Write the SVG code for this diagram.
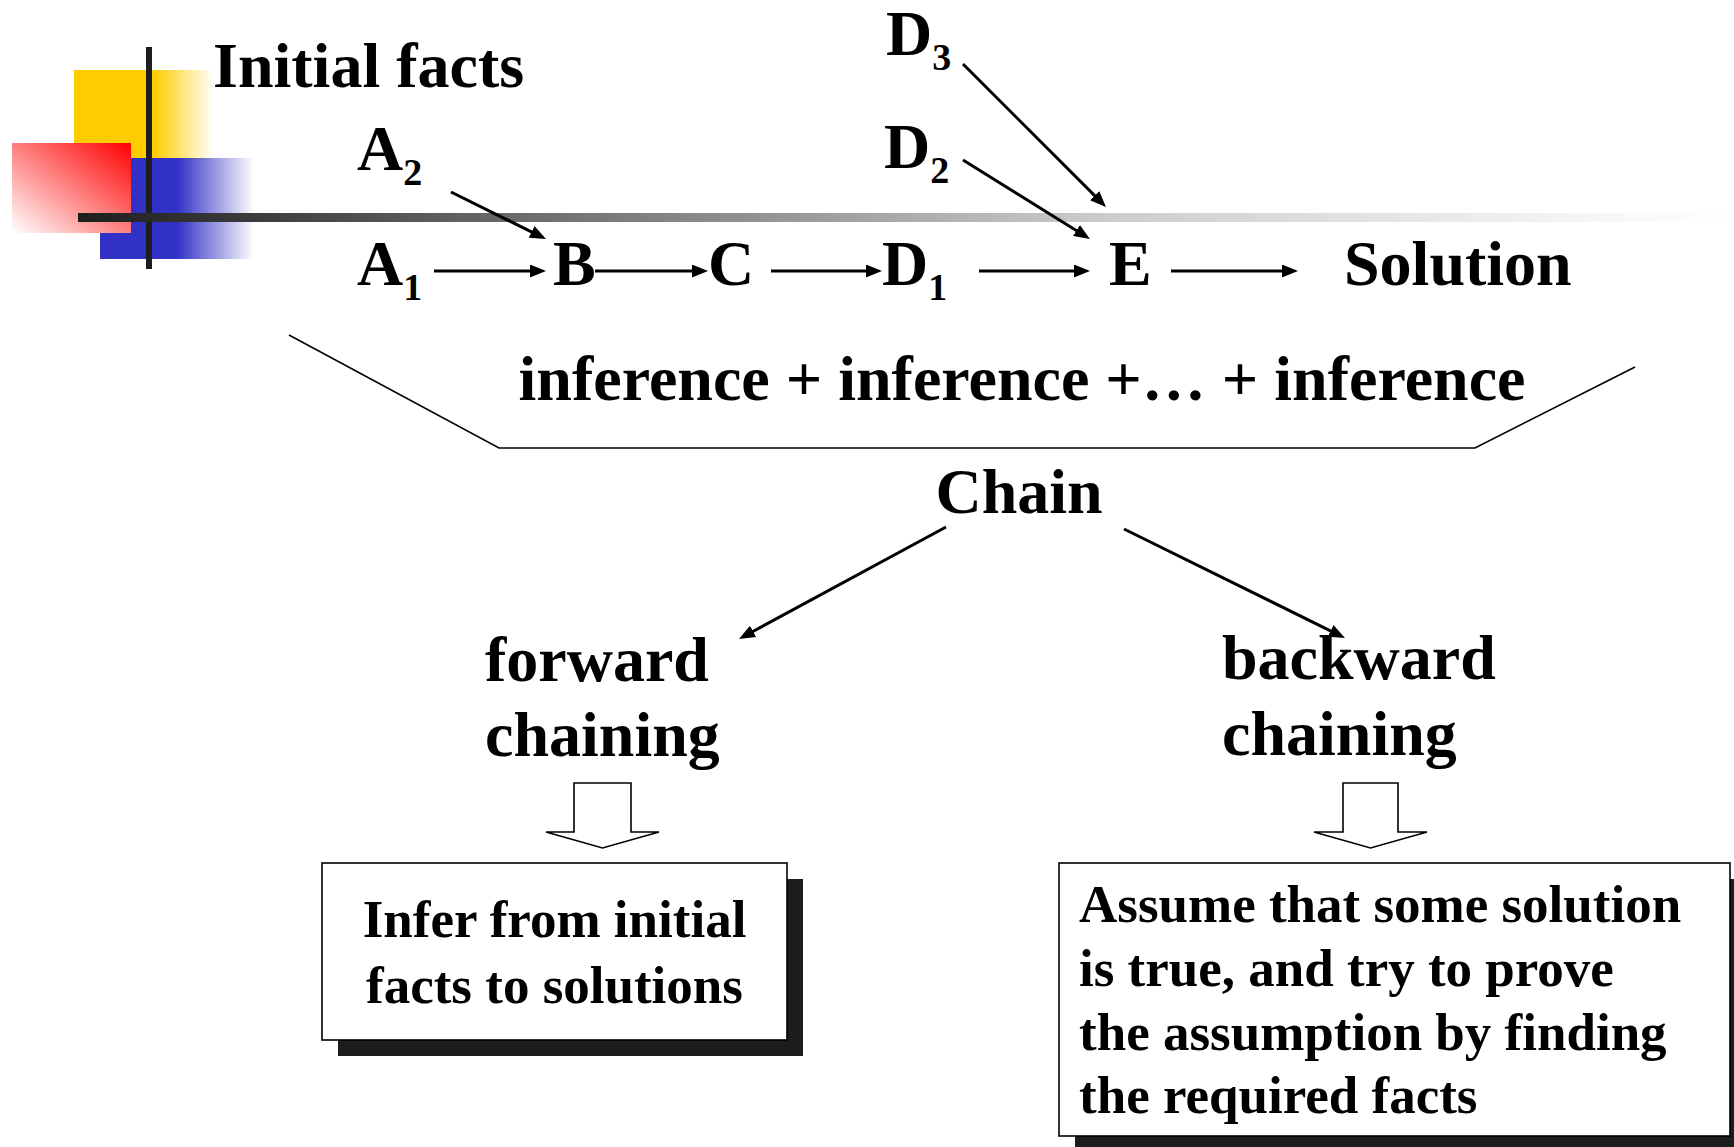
<svg xmlns="http://www.w3.org/2000/svg" width="1734" height="1147" viewBox="0 0 1734 1147">
  <style>
    .t { font-family: "Liberation Serif", "Times New Roman", serif; font-weight: bold; fill: #000; }
    .big { font-size: 64px; }
    .sub { font-size: 38px; }
    .boxtxt { font-size: 53px; }
    .conn { stroke: #000; stroke-width: 3; fill: none; marker-end: url(#ah); }
    .outline { stroke: #000; stroke-width: 1.6; fill: #fff; }
    .shadow { fill: #1c1c1c; }
  </style>
  <defs>
    <marker id="ah" markerUnits="userSpaceOnUse" markerWidth="16" markerHeight="13" refX="6" refY="6.5" orient="auto">
      <path d="M0,0 L16,6.5 L0,13 z" fill="#000"/>
    </marker>
    <linearGradient id="gYellow" x1="0" y1="0" x2="1" y2="0">
      <stop offset="0" stop-color="#ffcc00"/>
      <stop offset="0.57" stop-color="#ffcc00"/>
      <stop offset="1" stop-color="#ffcc00" stop-opacity="0"/>
    </linearGradient>
    <linearGradient id="gBlue" x1="0" y1="0" x2="1" y2="0">
      <stop offset="0" stop-color="#3131c6"/>
      <stop offset="0.5" stop-color="#3131c6"/>
      <stop offset="1" stop-color="#3131c6" stop-opacity="0"/>
    </linearGradient>
    <linearGradient id="gRed" x1="1" y1="0" x2="0" y2="1">
      <stop offset="0" stop-color="#ff0000"/>
      <stop offset="1" stop-color="#ffffff"/>
    </linearGradient>
    <linearGradient id="gBar" gradientUnits="userSpaceOnUse" x1="78" y1="0" x2="1734" y2="0">
      <stop offset="0" stop-color="#1e1e1e"/>
      <stop offset="0.29" stop-color="#727272"/>
      <stop offset="0.62" stop-color="#cccccc"/>
      <stop offset="0.93" stop-color="#f8f8f8"/>
      <stop offset="1" stop-color="#ffffff"/>
    </linearGradient>
  </defs>

  <rect width="1734" height="1147" fill="#fff"/>

  <!-- slide template decoration -->
  <g id="decor">
    <rect x="74" y="70" width="140" height="90" fill="url(#gYellow)"/>
    <rect x="100" y="158" width="154" height="101" fill="url(#gBlue)"/>
    <rect x="12" y="143" width="119" height="90" fill="url(#gRed)"/>
    <rect x="146" y="47" width="6" height="222" fill="#1e1e1e"/>
    <rect x="78" y="213" width="1656" height="9" fill="url(#gBar)"/>
  </g>

  <!-- bracket under the inference chain -->
  <g id="bracket">
    <polyline points="289,335 499,448 1475,448 1635,367" fill="none" stroke="#000" stroke-width="1.6"/>
  </g>

  <g id="connectors">
    <line class="conn" x1="451" y1="192" x2="537" y2="234.6"/>
    <line class="conn" x1="434" y1="271" x2="536" y2="271"/>
    <line class="conn" x1="595" y1="271" x2="698" y2="271"/>
    <line class="conn" x1="771" y1="271" x2="872" y2="271"/>
    <line class="conn" x1="979" y1="271" x2="1080" y2="271"/>
    <line class="conn" x1="1171" y1="271" x2="1288" y2="271"/>
    <line class="conn" x1="963" y1="160" x2="1081.5" y2="233.7"/>
    <line class="conn" x1="963" y1="64" x2="1098.9" y2="199.9"/>
    <line class="conn" x1="946" y1="527" x2="747.8" y2="634.2"/>
    <line class="conn" x1="1124" y1="529" x2="1336" y2="633.6"/>
    <!-- hollow block arrows -->
    <polygon class="outline" points="574,783 631,783 631,832 659,832 602.5,848 546,832 574,832"/>
    <polygon class="outline" points="1343,783 1398,783 1398,832 1427,832 1370.5,848 1314,832 1343,832"/>
  </g>

  <g id="initial-facts"><text class="t big" x="213" y="87">Initial facts</text></g>
  <g id="a2"><text class="t big" x="357" y="170">A<tspan class="sub" dy="15">2</tspan></text></g>
  <g id="a1"><text class="t big" x="357" y="285">A<tspan class="sub" dy="15">1</tspan></text></g>
  <g id="b"><text class="t big" x="553" y="285">B</text></g>
  <g id="c"><text class="t big" x="708" y="285">C</text></g>
  <g id="d1"><text class="t big" x="882" y="285">D<tspan class="sub" dy="15">1</tspan></text></g>
  <g id="d2"><text class="t big" x="884" y="168">D<tspan class="sub" dy="15">2</tspan></text></g>
  <g id="d3"><text class="t big" x="886" y="55">D<tspan class="sub" dy="15">3</tspan></text></g>
  <g id="e"><text class="t big" x="1109" y="285">E</text></g>
  <g id="solution"><text class="t big" x="1344" y="285">Solution</text></g>

  <g id="inference"><text class="t big" x="1022" y="400" text-anchor="middle">inference + inference +… + inference</text></g>
  <g id="chain"><text class="t big" x="1019" y="513" text-anchor="middle">Chain</text></g>

  <g id="forward">
    <text class="t big" x="485" y="681">forward</text>
    <text class="t big" x="485" y="756">chaining</text>
  </g>
  <g id="backward">
    <text class="t big" x="1222" y="679">backward</text>
    <text class="t big" x="1222" y="755">chaining</text>
  </g>

  <g id="forward-box">
    <rect class="shadow" x="338" y="879" width="465" height="177"/>
    <rect class="outline" x="322" y="863" width="465" height="177"/>
    <text class="t boxtxt" x="554.5" y="937" text-anchor="middle">Infer from initial</text>
    <text class="t boxtxt" x="554.5" y="1003" text-anchor="middle">facts to solutions</text>
  </g>

  <g id="backward-box">
    <rect class="shadow" x="1075" y="879" width="671" height="273"/>
    <rect class="outline" x="1059" y="863" width="671" height="273"/>
    <text class="t boxtxt" x="1079" y="922">Assume that some solution</text>
    <text class="t boxtxt" x="1079" y="986">is true, and try to prove</text>
    <text class="t boxtxt" x="1079" y="1050">the assumption by finding</text>
    <text class="t boxtxt" x="1079" y="1113">the required facts</text>
  </g>
</svg>
